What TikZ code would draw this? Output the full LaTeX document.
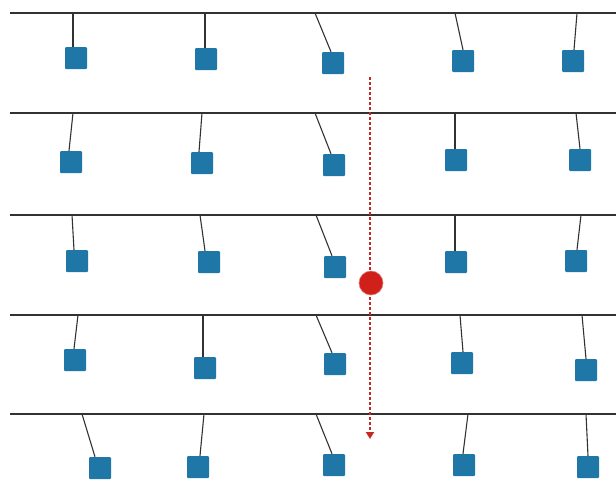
\documentclass[tikz,border=0pt]{standalone}
\usetikzlibrary{arrows.meta}
\definecolor{boxblue}{RGB}{31,119,168}
\definecolor{wirecol}{RGB}{50,50,50}
\definecolor{dotred}{RGB}{208,32,26}
\definecolor{pathred}{RGB}{196,40,36}
\tikzset{
  rail/.style={draw=wirecol, line width=1.2pt},
  wire/.style={draw=wirecol, line width=1.1pt},
  weight/.style={fill=boxblue, draw=none, rounded corners=1pt, minimum size=22pt, inner sep=0pt},
  probe/.style={circle, fill=dotred, draw=dotred!60, line width=0.6pt, minimum size=24pt, inner sep=0pt},
  track/.style={draw=pathred, line width=1.8pt, dash pattern=on 3pt off 2pt, -{Triangle[length=7pt,width=8pt]}}
}
\begin{document}
\begin{tikzpicture}[x=1pt,y=-1pt]
\useasboundingbox (0,0) rectangle (616,480);
% horizontal rails
\foreach \r/\ly in {1/13,2/113,3/215,4/315,5/414}{
  \coordinate (L\r) at (10,\ly);
  \coordinate (R\r) at (616,\ly);
  \draw[rail] (L\r) -- (R\r);
}
% hanging weights: row / rail y / top x / centre x / centre y / attach offset
\foreach \r/\c/\ly/\tx/\cx/\cy/\dx in {
  1/1/13/73/76/58/-3, 1/2/13/205/206/59/-1, 1/3/13/315/333/63/-2, 1/4/13/455/463/61/0, 1/5/13/577/573/61/1,
  2/1/113/73/71/162/-2, 2/2/113/202/202/163/-3, 2/3/113/315/334/165/-3, 2/4/113/455/456/160/-1, 2/5/113/576/580/160/0,
  3/1/215/72/77/261/-3, 3/2/215/200/209/262/-4, 3/3/215/316/335/267/-3, 3/4/215/455/456/262/-1, 3/5/215/581/576/261/1,
  4/1/315/78/75/360/-1, 4/2/315/203/205/368/-2, 4/3/315/316/335/364/-3, 4/4/315/460/462/363/1, 4/5/315/582/586/370/0,
  5/1/414/82/100/468/-5, 5/2/414/204/198/467/2, 5/3/414/316/334/465/-2, 5/4/414/468/464/465/-1, 5/5/414/586/588/467/0}{
  \coordinate (t\r\c) at (\tx,\ly);
  \node[weight] (s\r\c) at (\cx,\cy) {};
  \draw[wire] (t\r\c) -- ([xshift=\dx pt]s\r\c.north);
}
% falling probe and its path
\coordinate (pstart) at (370,77);
\coordinate (pend) at (370,439);
\draw[track] (pstart) -- (pend);
\node[probe] (dot) at (371,283) {};
\end{tikzpicture}
\end{document}
